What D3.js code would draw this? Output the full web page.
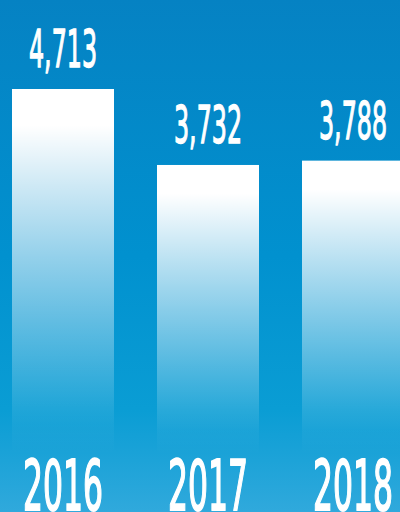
<!DOCTYPE html>
<html>
  <head>
    <title>Yearly totals</title>
    <script src="https://cdn.jsdelivr.net/npm/d3@7"></script>
    <style>
      body { margin: 0; }
      text { font-family: "DejaVu Sans Condensed", "DejaVu Sans", sans-serif; fill: #fff; stroke: #fff; }
    </style>
  </head>
  <body>
    <svg width="400" height="512" id="mainsvg"></svg>
    <script>
        const years = ['2016', '2017', '2018'];
        const values = [4713, 3732, 3788];
        const valueLabels = ['4,713', '3,732', '3,788'];

        const svg = d3.select('#mainsvg');
        const width = +svg.attr('width');
        const height = +svg.attr('height');

        const defs = svg.append('defs');

        // background: deep blue at top, lighter toward the bottom
        const bg = defs.append('linearGradient').attr('id', 'bg')
        .attr('x1', 0).attr('y1', 0).attr('x2', 0).attr('y2', 1);
        bg.append('stop').attr('offset', 0).attr('stop-color', '#0582c3');
        bg.append('stop').attr('offset', 0.5).attr('stop-color', '#0191cf');
        bg.append('stop').attr('offset', 0.8).attr('stop-color', '#0a9dd4');
        bg.append('stop').attr('offset', 1).attr('stop-color', '#30a9dc');

        // bars: white on top, fading into the background
        const fade = defs.append('linearGradient').attr('id', 'fade')
        .attr('x1', 0).attr('y1', 0).attr('x2', 0).attr('y2', 1);
        fade.append('stop').attr('offset', 0.1).attr('stop-color', '#fff').attr('stop-opacity', 1);
        fade.append('stop').attr('offset', 0.92).attr('stop-color', '#fff').attr('stop-opacity', 0.04);
        fade.append('stop').attr('offset', 1).attr('stop-color', '#fff').attr('stop-opacity', 0);

        svg.append('rect').attr('width', width).attr('height', height).attr('fill', 'url(#bg)');

        const x = d3.scaleBand()
        .domain(years)
        .range([12, 404])
        .paddingInner(0.2966)
        .paddingOuter(0);

        const y = d3.scaleLinear()
        .domain([0, d3.max(values)])
        .range([454, 89]);

        const data = years.map((yr, i) => ({year: yr, value: values[i], label: valueLabels[i]}));

        const g = svg.append('g');

        g.selectAll('rect.bar').data(data).join('rect')
        .attr('class', 'bar')
        .attr('x', d => x(d.year))
        .attr('y', d => y(d.value))
        .attr('width', x.bandwidth())
        .attr('height', d => y(0) - y(d.value))
        .attr('fill', 'url(#fade)');

        g.selectAll('text.value').data(data).join('text')
        .attr('class', 'value')
        .attr('x', d => x(d.year) + x.bandwidth() / 2)
        .attr('y', d => y(d.value) - 22)
        .attr('text-anchor', 'middle')
        .attr('font-size', 51)
        .attr('stroke-width', 1.3)
        .attr('textLength', 68)
        .attr('lengthAdjust', 'spacingAndGlyphs')
        .text(d => d.label);

        g.selectAll('text.year').data(data).join('text')
        .attr('class', 'year')
        .attr('x', d => x(d.year) + x.bandwidth() / 2)
        .attr('y', 510)
        .attr('text-anchor', 'middle')
        .attr('font-size', 70)
        .attr('stroke-width', 1.8)
        .attr('textLength', 80)
        .attr('lengthAdjust', 'spacingAndGlyphs')
        .text(d => d.year);
    </script>
  </body>
</html>
